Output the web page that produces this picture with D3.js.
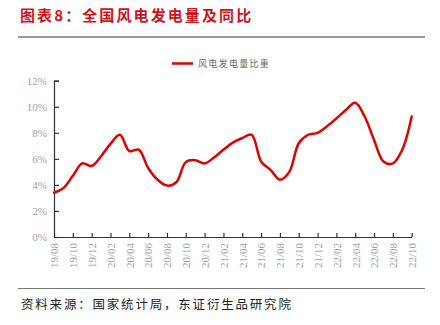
<!DOCTYPE html>
<html><head><meta charset="utf-8">
<script src="https://cdn.jsdelivr.net/npm/d3@7"></script>
<style>
html,body{margin:0;padding:0;background:#fff;}
svg{display:block;}
</style></head>
<body>
<svg id="chart" width="440" height="325"></svg>
<script>
const months = ["19/08","19/09","19/10","19/11","19/12","20/01","20/02","20/03","20/04","20/05","20/06","20/07","20/08","20/09","20/10","20/11","20/12","21/01","21/02","21/03","21/04","21/05","21/06","21/07","21/08","21/09","21/10","21/11","21/12","22/01","22/02","22/03","22/04","22/05","22/06","22/07","22/08","22/09","22/10"];
const windShare = [3.4,3.75,4.7,5.65,5.45,6.2,7.15,7.85,6.6,6.7,5.3,4.4,3.95,4.2,5.75,5.9,5.65,6.1,6.7,7.25,7.6,7.85,5.8,5.15,4.4,5.0,7.2,7.85,8.0,8.5,9.1,9.75,10.3,9.25,7.45,5.8,5.65,6.7,9.25];
const xTickLabels = ["19/08","19/10","19/12","20/02","20/04","20/06","20/08","20/10","20/12","21/02","21/04","21/06","21/08","21/10","21/12","22/02","22/04","22/06","22/08","22/10"];
const yTicks = [0,2,4,6,8,10,12];
const seriesName = "风电发电量比重";
const titleText = "图表8：全国风电发电量及同比";
const sourceText = "资料来源：国家统计局，东证衍生品研究院";

const svg = d3.select("#chart");
const x = d3.scalePoint().domain(months).range([54, 411.7]);
const y = d3.scaleLinear().domain([0, 12]).range([237, 80.7]);

// title
svg.append("text").attr("x", 20).attr("y", 21)
  .attr("font-family", "Noto Sans CJK SC").attr("font-weight", "bold")
  .attr("font-size", 15).attr("letter-spacing", 2.1).attr("fill", "#d0121b")
  .text(titleText);
svg.append("line").attr("x1", 18).attr("x2", 425).attr("y1", 37).attr("y2", 37)
  .attr("stroke", "#777").attr("stroke-width", 1.5);

// legend
svg.append("line").attr("x1", 172).attr("x2", 193).attr("y1", 63.5).attr("y2", 63.5)
  .attr("stroke", "#e00000").attr("stroke-width", 2.5);
svg.append("text").attr("x", 198).attr("y", 66.5)
  .attr("font-family", "Noto Sans CJK SC").attr("font-size", 9)
  .attr("letter-spacing", 1.3).attr("fill", "#666").text(seriesName);

// y axis
const yAxis = svg.append("g").attr("transform", "translate(54,0)")
  .call(d3.axisRight(y).tickValues(yTicks).tickSize(5).tickFormat(d => d + "%"));
yAxis.select(".domain").attr("stroke", "#333").attr("stroke-width", 1.2);
yAxis.selectAll(".tick line").attr("stroke", "#333").attr("stroke-width", 1.2);
yAxis.selectAll(".tick text").attr("x", -7).attr("text-anchor", "end")
  .attr("font-family", "Liberation Serif").attr("font-size", 11).attr("fill", "#a0a0a0");

// x axis
const xAxis = svg.append("g").attr("transform", "translate(0,237)")
  .call(d3.axisBottom(x).tickValues(xTickLabels).tickSizeInner(-4).tickSizeOuter(0).tickFormat(d => d));
xAxis.select(".domain").attr("stroke", "#333").attr("stroke-width", 1.2);
xAxis.selectAll(".tick line").attr("stroke", "#333").attr("stroke-width", 1.2);
xAxis.selectAll(".tick text")
  .attr("font-family", "Liberation Serif").attr("font-size", 11).attr("fill", "#a0a0a0")
  .attr("text-anchor", "end").attr("dy", "0.35em")
  .attr("transform", "translate(0,6) rotate(-90)").attr("x", 0).attr("y", 0);

// line
const line = d3.line().x((d, i) => x(months[i])).y(d => y(d)).curve(d3.curveCatmullRom.alpha(0.5));
svg.append("path").datum(windShare).attr("d", line)
  .attr("fill", "none").attr("stroke", "#e00000").attr("stroke-width", 2.5)
  .attr("stroke-linejoin", "round").attr("stroke-linecap", "round");

// bottom rule & source
svg.append("line").attr("x1", 18).attr("x2", 425).attr("y1", 288.5).attr("y2", 288.5)
  .attr("stroke", "#777").attr("stroke-width", 1.2);
svg.append("text").attr("x", 21).attr("y", 308.5)
  .attr("font-family", "Noto Sans CJK SC").attr("font-size", 12.5)
  .attr("letter-spacing", 1.8).attr("fill", "#222").text(sourceText);
</script>
</body></html>
